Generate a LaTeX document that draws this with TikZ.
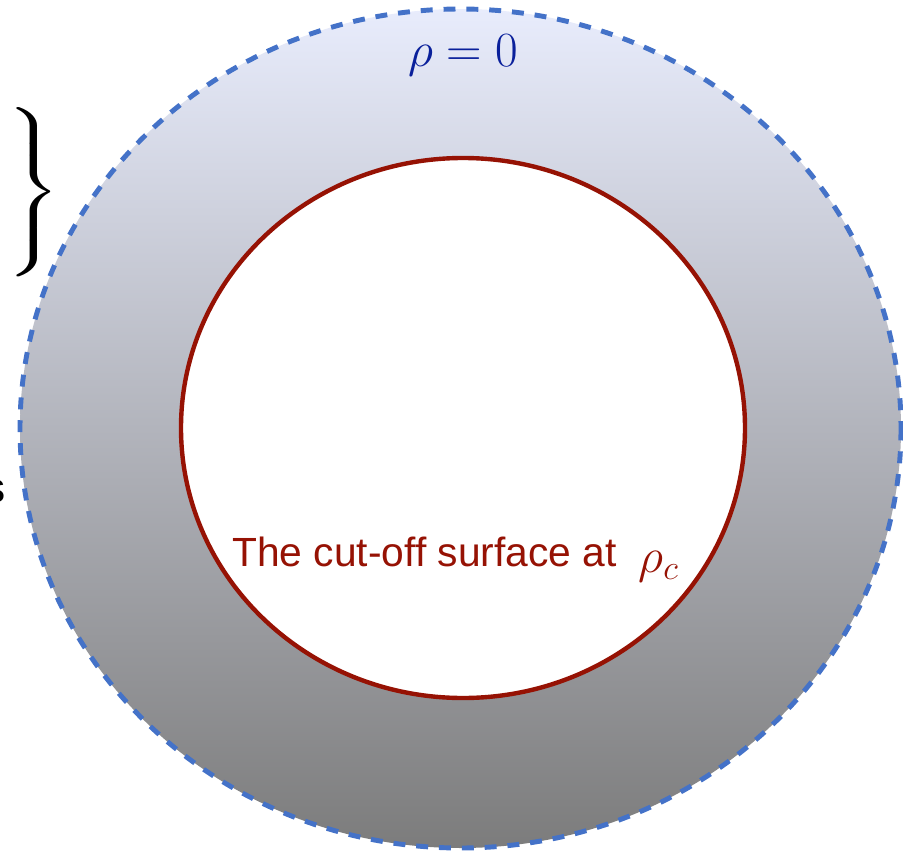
\documentclass[tikz,border=0pt]{standalone}
\usepackage{fix-cm}
\usepackage{fontspec}
\setmainfont{Liberation Sans}
\usetikzlibrary{positioning}
\definecolor{ringblue}{RGB}{68,114,200}
\definecolor{cutred}{RGB}{150,18,4}
\definecolor{rhoblue}{RGB}{10,32,155}
\definecolor{toplilac}{RGB}{232,236,252}
\definecolor{bottomgray}{RGB}{124,124,124}

\begin{document}
\begin{tikzpicture}[x=0.02cm, y=-0.02cm,
    boundary/.style={draw=ringblue, line width=2.8pt, dash pattern=on 6.8pt off 6.2pt},
    cutoff/.style={draw=cutred, line width=2.5pt, fill=white},
    mathlabel/.style={inner sep=0pt, font=\fontsize{28}{32}\selectfont},
    textlabel/.style={inner sep=0pt, font=\fontsize{23.2}{27}\selectfont}
]
\useasboundingbox (0,0) rectangle (903,852);
% the region between the cut-off and the boundary
\shade[top color=toplilac, bottom color=bottomgray] (460.5,428.5) ellipse [x radius=440.5, y radius=419.5];
\draw[boundary] (460.5,428.5) ellipse [x radius=440.5, y radius=419.5];
\draw[cutoff] (463,428) ellipse [x radius=282, y radius=270];
\node[mathlabel, text=rhoblue, anchor=base] (rhozero) at (463.5,66.5) {$\rho = 0$};
\node[textlabel, text=cutred, anchor=base west] (cutlabel) at (232,566.5) {The cut-off surface at};
\node[mathlabel, text=cutred, anchor=base west, right=21 of cutlabel.base east] (rhoc) {$\rho_c$};
\node[inner sep=0pt] (brace) at (30,192) {\scalebox{3.5}[2.3]{$\left.\vrule height 0.64cm depth 0.64cm width 0pt\right\}$}};
\node[textlabel, font=\fontsize{24}{28}\selectfont, anchor=base east] (cutword) at (5.5,502) {s};
\end{tikzpicture}
\end{document}
